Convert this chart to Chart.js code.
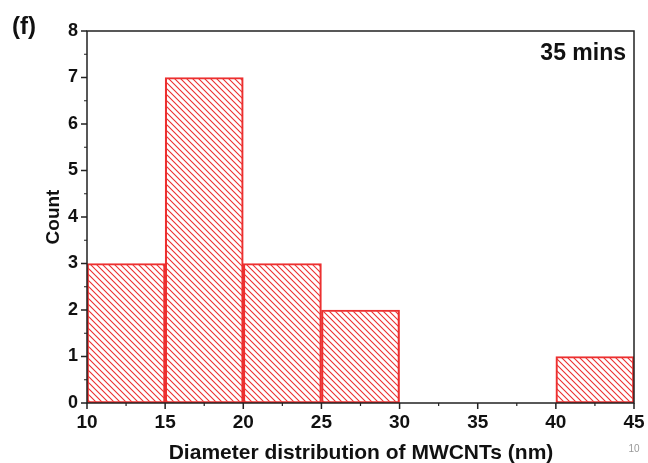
<!DOCTYPE html>
<html>
<head>
<meta charset="utf-8">
<script src="https://cdn.jsdelivr.net/npm/chart.js@4.4.1/dist/chart.umd.min.js"></script>
<style>
  html, body { margin: 0; padding: 0; background: #fff; }
  #wrap { width: 648px; height: 463px; position: relative; }
</style>
</head>
<body>
<div id="wrap"><canvas id="chart"></canvas></div>
<script>
// histogram bins (nm) and counts
const binStarts = [10, 15, 20, 25, 40];
const binWidth = 5;
const counts = [3, 7, 3, 2, 1];
const xTicks = [10, 15, 20, 25, 30, 35, 40, 45];
const yTicks = [0, 1, 2, 3, 4, 5, 6, 7, 8];

const RED = 'rgb(236, 48, 48)';
const FONT = '"Liberation Sans", Arial, sans-serif';

const makeHatch = () => {
  const n = 6;
  const c = document.createElement('canvas');
  c.width = n;
  c.height = n;
  const g = c.getContext('2d');
  g.strokeStyle = RED;
  g.lineWidth = 1.1;
  g.beginPath();
  g.moveTo(-1, -1); g.lineTo(n + 1, n + 1);
  g.moveTo(-n - 1, -1); g.lineTo(1, n + 1);
  g.moveTo(n - 1, -1); g.lineTo(2 * n + 1, n + 1);
  g.stroke();
  return g.createPattern(c, 'repeat');
};

const frameAndText = {
  id: 'frameAndText',
  afterDraw: chart => {
    const { ctx, chartArea: a, scales } = chart;
    ctx.save();
    // frame
    ctx.strokeStyle = '#222';
    ctx.lineWidth = 1.5;
    ctx.strokeRect(a.left, a.top, a.right - a.left, a.bottom - a.top);
    // major + minor ticks
    ctx.beginPath();
    for (const v of yTicks) {
      const y = scales.y.getPixelForValue(v);
      ctx.moveTo(a.left - 6, y); ctx.lineTo(a.left, y);
    }
    for (const v of xTicks) {
      const x = scales.x.getPixelForValue(v);
      ctx.moveTo(x, a.bottom); ctx.lineTo(x, a.bottom + 6);
    }
    ctx.stroke();
    ctx.lineWidth = 1.2;
    ctx.beginPath();
    for (let v = 0.5; v < 8; v += 1) {
      const y = scales.y.getPixelForValue(v);
      ctx.moveTo(a.left - 3, y); ctx.lineTo(a.left, y);
    }
    for (let v = 12.5; v < 45; v += 5) {
      const x = scales.x.getPixelForValue(v);
      ctx.moveTo(x, a.bottom); ctx.lineTo(x, a.bottom + 3);
    }
    ctx.stroke();
    ctx.fillStyle = '#111';
    ctx.font = 'bold 24px ' + FONT;
    ctx.textBaseline = 'alphabetic';
    ctx.textAlign = 'left';
    ctx.fillText('(f)', 12, 34);
    ctx.font = 'bold 23px ' + FONT;
    ctx.textAlign = 'right';
    ctx.fillText('35 mins', 626, 60);
    ctx.font = 'bold 21px ' + FONT;
    ctx.textAlign = 'center';
    ctx.fillText('Diameter distribution of MWCNTs (nm)', 361, 459);
    ctx.font = 'bold 19px ' + FONT;
    ctx.save();
    ctx.translate(59, 217);
    ctx.rotate(-Math.PI / 2);
    ctx.fillText('Count', 0, 0);
    ctx.restore();
    ctx.fillStyle = '#999';
    ctx.font = '10px ' + FONT;
    ctx.fillText('10', 634, 452);
    ctx.restore();
  },
};

new Chart(document.getElementById('chart'), {
  type: 'bar',
  data: {
    datasets: [{
      data: binStarts.map((s, i) => ({ x: s + binWidth / 2, y: counts[i] })),
      backgroundColor: makeHatch(),
      borderColor: RED,
      borderWidth: 1.5,
      borderSkipped: false,
      barPercentage: 1,
      categoryPercentage: 1,
    }],
  },
  options: {
    responsive: true,
    maintainAspectRatio: false,
    animation: false,
    layout: { padding: { top: 31, right: 14, bottom: 0, left: 0 } },
    scales: {
      x: {
        type: 'linear',
        offset: false,
        min: 10,
        max: 45,
        afterBuildTicks: s => { s.ticks = xTicks.map(v => ({ value: v })); },
        afterFit: s => { s.height = 60; s.paddingLeft = 0; s.paddingRight = 0; },
        grid: { display: false, tickLength: 6 },
        border: { display: false },
        ticks: { color: '#111', font: { family: FONT, size: 19, weight: 'bold' }, padding: 2, maxRotation: 0, autoSkip: false },
      },
      y: {
        min: 0,
        max: 8,
        afterBuildTicks: s => { s.ticks = yTicks.map(v => ({ value: v })); },
        afterFit: s => { s.width = 87; s.paddingTop = 0; s.paddingBottom = 0; },
        grid: { display: false, tickLength: 6 },
        border: { display: false },
        ticks: { color: '#111', font: { family: FONT, size: 18, weight: 'bold' }, padding: 3 },
      },
    },
    plugins: { legend: { display: false }, tooltip: { enabled: false } },
  },
  plugins: [frameAndText],
});
</script>
</body>
</html>
